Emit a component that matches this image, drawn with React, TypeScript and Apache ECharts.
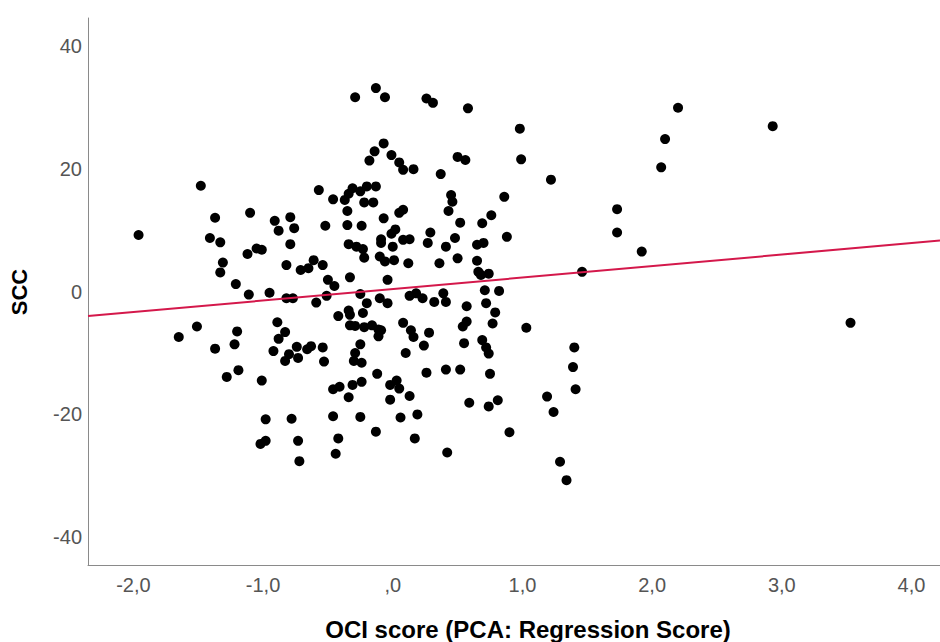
import React, { useEffect, useRef } from "react";
import * as echarts from "echarts";

// OCI score (x) and SCC (y) for each participant
const OCI_SCORE: number[] = [
  -1.48, -1.96, -1.37, -1.10, -0.91, -0.79, -0.76, -0.88, -1.41, -1.33,
  -0.79, -1.12, -1.05, -1.01, -1.31, -1.33, -0.82, -0.71, -0.65, -0.61,
  -1.21, -1.11, -0.95, -0.82, -0.77, -0.59, -1.65, -1.51, -1.37, -1.20,
  -1.22, -0.89, -0.83, -0.88, -0.92, -0.80, -0.83, -0.73, -0.74, -0.66,
  -0.63, -1.19, -1.28, -1.01, -0.98, -0.78, -0.98, -1.02, -0.73, -0.72,
  -0.29, -0.13, -0.06, 0.26, 0.31, 0.58, -0.07, -0.14, -0.18, -0.01,
  0.05, 0.08, 0.16, 0.37, 0.50, 0.56, -0.57, -0.46, -0.37, -0.34,
  -0.31, -0.25, -0.20, -0.13, -0.22, -0.15, -0.35, 0.45, 0.46, 0.43,
  0.52, 0.08, 0.05, -0.07, -0.52, -0.35, -0.24, 0.02, -0.01, -0.09,
  -0.09, 0.08, 0.13, 0.29, 0.27, 0.48, 0.41, 0.50, -0.34, -0.28,
  -0.23, -0.22, 0.00, -0.10, -0.06, 0.01, 0.12, 0.36, -0.54, -0.50,
  -0.45, -0.33, -0.04, -0.51, -0.25, -0.20, -0.10, -0.04, 0.13, 0.18,
  0.23, 0.32, 0.39, 0.41, 0.57, -0.42, -0.34, -0.33, -0.23, -0.33,
  -0.29, -0.22, -0.16, -0.11, -0.09, -0.11, 0.08, 0.14, 0.16, 0.28,
  0.24, 0.10, -0.25, -0.29, -0.30, -0.24, -0.54, -0.53, -0.12, 0.26,
  0.41, 0.52, -0.46, -0.41, -0.31, -0.24, -0.34, -0.02, 0.03, 0.05,
  -0.02, 0.13, -0.46, -0.25, 0.06, 0.19, -0.13, -0.42, 0.17, -0.44,
  0.42, 0.98, 0.99, 1.22, 0.86, 0.76, 0.69, 0.88, 0.65, 0.70,
  0.65, 0.66, 0.68, 0.74, 1.46, 0.71, 0.82, 0.72, 0.79, 0.77,
  0.57, 0.54, 0.55, 0.69, 0.72, 0.74, 1.03, 1.40, 1.39, 1.41,
  0.75, 0.59, 0.74, 0.81, 1.19, 1.24, 0.90, 1.29, 1.34, 2.20,
  2.10, 2.07, 2.93, 1.73, 1.73, 1.92, 3.53,
];

const SCC_SCORE: number[] = [
  17.2, 9.2, 12.0, 12.8, 11.5, 12.1, 10.3, 9.9, 8.7, 8.0,
  7.7, 6.1, 7.0, 6.8, 4.7, 3.1, 4.3, 3.5, 3.8, 5.1,
  1.2, -0.5, -0.2, -1.1, -1.1, -1.8, -7.4, -5.7, -9.3, -6.5,
  -8.6, -5.0, -6.6, -7.7, -9.7, -10.2, -11.3, -10.8, -9.0, -9.4,
  -8.9, -12.8, -13.9, -14.5, -20.8, -20.7, -24.3, -24.8, -24.3, -27.6,
  31.6, 33.1, 31.6, 31.4, 30.7, 29.8, 24.1, 22.8, 21.3, 22.2,
  21.0, 19.8, 19.9, 19.1, 21.9, 21.4, 16.5, 15.0, 14.9, 15.9,
  16.8, 16.3, 17.1, 17.1, 14.5, 14.5, 13.1, 15.7, 14.6, 13.1,
  11.2, 13.3, 12.8, 11.9, 10.7, 10.8, 10.7, 10.1, 9.4, 8.5,
  7.9, 8.4, 8.5, 9.6, 7.9, 8.7, 7.3, 5.4, 7.7, 7.3,
  6.9, 5.5, 7.3, 5.7, 4.9, 5.1, 4.6, 4.6, 4.3, 1.9,
  0.9, 2.3, 1.9, -0.7, -0.4, -1.9, -1.1, -1.9, -0.7, -0.3,
  -1.1, -1.7, -0.3, -1.7, -2.4, -4.0, -3.1, -3.8, -3.5, -5.5,
  -5.6, -5.8, -5.5, -6.2, -6.3, -7.3, -5.1, -6.3, -7.4, -6.7,
  -8.8, -10.0, -8.6, -10.0, -11.3, -11.6, -9.1, -11.4, -13.4, -13.2,
  -12.7, -12.7, -15.9, -15.5, -15.2, -14.7, -17.2, -15.2, -14.5, -15.8,
  -17.6, -17.0, -20.3, -20.4, -20.5, -20.0, -22.8, -23.9, -23.9, -26.4,
  -26.2, 26.5, 21.5, 18.2, 15.4, 12.4, 11.1, 8.9, 7.6, 7.9,
  5.0, 3.2, 2.7, 2.9, 3.2, 0.2, 0.1, -1.9, -3.4, -5.2,
  -4.9, -5.7, -8.4, -7.9, -9.1, -10.1, -5.9, -9.1, -12.3, -15.9,
  -13.4, -18.1, -18.7, -17.7, -17.1, -19.6, -22.9, -27.7, -30.7, 29.9,
  24.8, 20.2, 26.9, 13.4, 9.6, 6.5, -5.1,
];

// Axis extents and tick labels
const X_RANGE: number[] = [-2.35, 4.22];
const Y_RANGE: number[] = [-44.5, 44.5];
const X_TICKS: number[] = [-2, -1, 0, 1, 2, 3, 4];
const Y_TICKS: number[] = [-40, -20, 0, 20, 40];

// Linear fit line (SCC = a + b * OCI)
const FIT_INTERCEPT = 0.4;
const FIT_SLOPE = 1.87;

const X_TITLE = "OCI score (PCA: Regression Score)";
const Y_TITLE = "SCC";

const FONT = '"Liberation Sans", Arial, Helvetica, sans-serif';

function isTick(v: number, ticks: number[]) {
  return ticks.some((t) => Math.abs(t - v) < 1e-6);
}

function fmtX(v: number) {
  if (!isTick(v, X_TICKS)) return "";
  if (Math.abs(v) < 1e-9) return ",0";
  return v.toFixed(1).replace(".", ",");
}

function fmtY(v: number) {
  if (!isTick(v, Y_TICKS)) return "";
  return String(Math.round(v));
}

export default function App() {
  const ref = useRef<HTMLDivElement>(null);

  useEffect(() => {
    if (!ref.current) return;
    const chart = echarts.init(ref.current, undefined, { renderer: "svg" });
    const points = OCI_SCORE.map((x, i) => [x, SCC_SCORE[i]]);
    const fit = X_RANGE.map((x) => [x, FIT_INTERCEPT + FIT_SLOPE * x]);

    chart.setOption({
      animation: false,
      backgroundColor: "#ffffff",
      grid: { left: 88, right: 0, top: 18, bottom: 77, containLabel: false },
      xAxis: {
        type: "value",
        min: X_RANGE[0],
        max: X_RANGE[1],
        splitNumber: 5,
        axisLine: { show: true, onZero: false, lineStyle: { color: "#8a8a8a", width: 1 } },
        axisTick: { show: false },
        splitLine: { show: false },
        axisLabel: {
          showMinLabel: false,
          showMaxLabel: false,
          formatter: fmtX,
          color: "#555555",
          fontFamily: FONT,
          fontSize: 20,
          margin: 10,
        },
      },
      yAxis: {
        type: "value",
        min: Y_RANGE[0],
        max: Y_RANGE[1],
        splitNumber: 5,
        axisLine: { show: true, onZero: false, lineStyle: { color: "#8a8a8a", width: 1 } },
        axisTick: { show: false },
        splitLine: { show: false },
        axisLabel: {
          showMinLabel: false,
          showMaxLabel: false,
          formatter: fmtY,
          color: "#555555",
          fontFamily: FONT,
          fontSize: 20,
          margin: 6,
        },
      },
      graphic: [
        {
          type: "text",
          x: 528,
          y: 629,
          style: {
            text: X_TITLE,
            font: `bold 24px ${FONT}`,
            fill: "#000000",
            align: "center",
            verticalAlign: "middle",
            textAlign: "center",
            textVerticalAlign: "middle",
          },
        },
        {
          type: "text",
          x: 19,
          y: 292,
          rotation: Math.PI / 2,
          style: {
            text: Y_TITLE,
            font: `bold 22px ${FONT}`,
            fill: "#000000",
            align: "center",
            verticalAlign: "middle",
            textAlign: "center",
            textVerticalAlign: "middle",
          },
        },
      ],
      series: [
        {
          type: "scatter",
          data: points,
          symbol: "circle",
          symbolSize: 10,
          itemStyle: { color: "#000000", opacity: 1 },
          z: 2,
        },
        {
          type: "line",
          data: fit,
          symbol: "none",
          lineStyle: { color: "#d4184b", width: 2 },
          silent: true,
          z: 3,
        },
      ],
    });

    return () => chart.dispose();
  }, []);

  return (
    <div
      ref={ref}
      style={{ position: "fixed", left: 0, top: 0, width: 940, height: 642, background: "#fff" }}
    />
  );
}
